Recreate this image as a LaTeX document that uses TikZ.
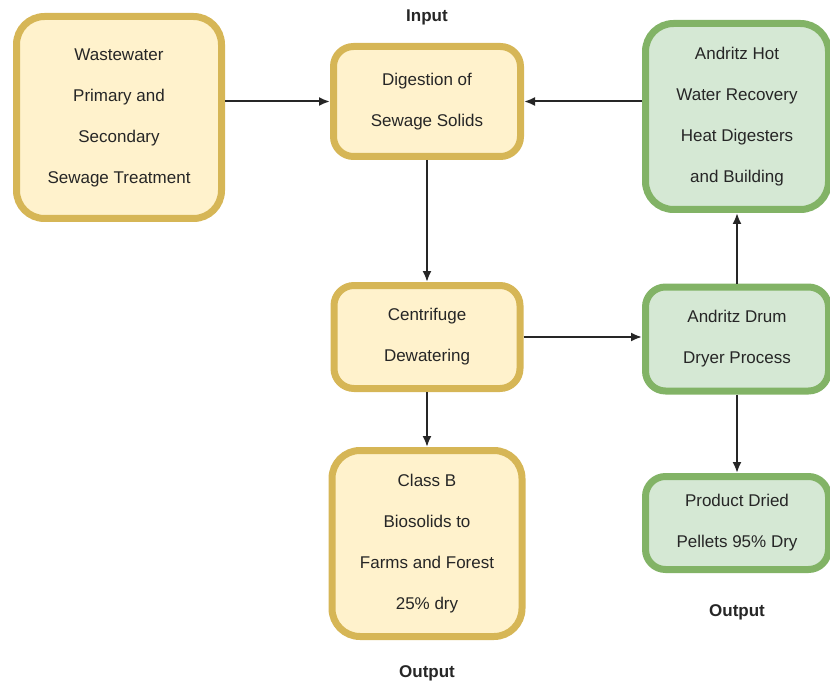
\documentclass[tikz,border=0pt]{standalone}
\usepackage{fontspec}
\setmainfont{Liberation Sans}
\usepackage{tikz}
\usetikzlibrary{shapes,arrows,arrows.meta}
\usetikzlibrary{calc}
\usetikzlibrary{positioning}
\definecolor{sludgefill}{HTML}{FFF2CC}
\definecolor{sludgeline}{HTML}{D6B656}
\definecolor{dryerfill}{HTML}{D5E8D4}
\definecolor{dryerline}{HTML}{82B366}
\tikzstyle{block} = [draw=sludgeline, fill=sludgefill, rectangle, line width=7pt,
    rounded corners=20pt, align=center, text=black!85,
    font=\fontsize{17}{41}\selectfont]
\tikzstyle{greenblock} = [block, draw=dryerline, fill=dryerfill]
\tikzstyle{tag} = [font=\fontsize{17}{20}\selectfont\bfseries, text=black!85]

\begin{document}
\begin{tikzpicture}[auto, x=1pt, y=1pt, >={Latex[length=11pt,width=9pt]}, line width=2pt]
    \useasboundingbox (0,0) rectangle (830,-687);
    % We start by placing the blocks
    \node [block, minimum width=187pt, minimum height=110pt] (digest) at (427,-101.5)
        {Digestion of\\Sewage Solids};
    \node [block, left of=digest, node distance=308pt, yshift=-16pt,
        minimum width=205pt, minimum height=202pt, rounded corners=28pt] (waste)
        {Wastewater\\Primary and\\Secondary\\Sewage Treatment};
    \node [block, below of=digest, node distance=235.5pt,
        minimum width=186pt, minimum height=103pt] (centri)
        {Centrifuge\\Dewatering};
    \node [block, below of=centri, node distance=206.5pt,
        minimum width=190pt, minimum height=186pt, rounded corners=28pt] (classb)
        {Class B\\Biosolids to\\Farms and Forest\\25\% dry};
    \node [greenblock, right of=centri, node distance=310pt, yshift=-2pt,
        minimum width=183pt, minimum height=104pt] (drum)
        {Andritz Drum\\Dryer Process};
    \node [greenblock, above of=drum, node distance=222.5pt,
        minimum width=183pt, minimum height=186pt, rounded corners=28pt] (hot)
        {Andritz Hot\\Water Recovery\\Heat Digesters\\and Building};
    \node [greenblock, below of=drum, node distance=184pt,
        minimum width=183pt, minimum height=93pt] (product)
        {Product Dried\\Pellets 95\% Dry};

    % Labels for input and outputs
    \node [tag, above of=digest, node distance=84.5pt] (input) {Input};
    \node [tag, below of=product, node distance=89pt] (out1) {Output};
    \node [tag, below of=classb, node distance=129.5pt] (out2) {Output};

    % Once the nodes are placed, connecting them is easy.
    \draw [->, draw=black!85] (waste.east |- digest.west) -- (digest.west);
    \draw [->, draw=black!85] (hot.west |- digest.east) -- (digest.east);
    \draw [->, draw=black!85] (digest) -- (centri);
    \draw [->, draw=black!85] (centri.east) -- (centri.east -| drum.west);
    \draw [->, draw=black!85] (drum) -- (hot);
    \draw [->, draw=black!85] (centri) -- (classb);
    \draw [->, draw=black!85] (drum) -- (product);
\end{tikzpicture}
\end{document}
